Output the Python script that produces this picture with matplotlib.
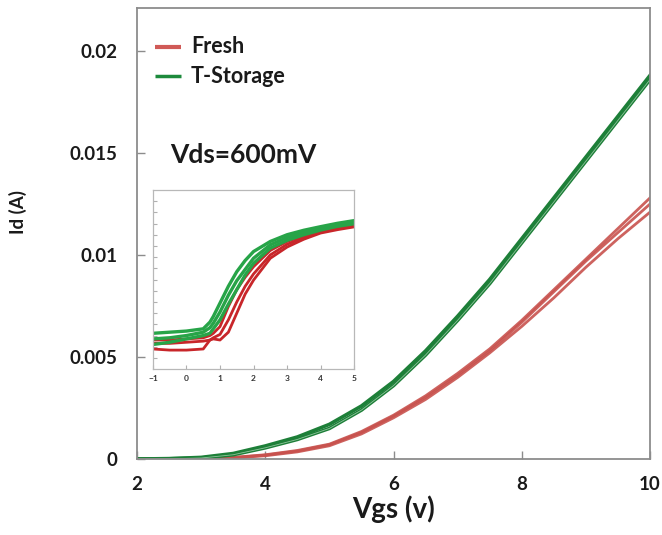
"""Id-Vgs curves of fresh and stored devices, with a log-scale inset."""

import matplotlib
matplotlib.use('Agg')
import matplotlib.pyplot as plt

# Main plot: drain current (A) against gate voltage (V).
vgs = [2, 2.5, 3, 3.5, 4, 4.5, 5, 5.5, 6, 6.5, 7, 7.5, 8, 8.5, 9, 9.5, 10]

green_main = [
    [0, 0.00001, 0.00005, 0.00021, 0.00055, 0.00096, 0.0015, 0.0024, 0.0036,
     0.0051, 0.0068, 0.0086, 0.0106, 0.0126, 0.0146, 0.0166, 0.0186],
    [0, 0.00002, 0.00008, 0.00027, 0.00064, 0.00108, 0.0017, 0.0026, 0.0038,
     0.0053, 0.0070, 0.0088, 0.0108, 0.0128, 0.0148, 0.0168, 0.0188],
]
red_main = [
    [0, 0, 0.00002, 0.00008, 0.00021, 0.00042, 0.00073, 0.00135, 0.00215,
     0.0031, 0.0042, 0.0054, 0.0068, 0.0083, 0.0098, 0.0113, 0.0128],
    [0, 0, 0.00002, 0.00007, 0.00019, 0.00039, 0.0007, 0.0013, 0.0021,
     0.00302, 0.0041, 0.0053, 0.0067, 0.0082, 0.0097, 0.0111, 0.0125],
    [0, 0, 0.00001, 0.00005, 0.00016, 0.00035, 0.00065, 0.00123, 0.00202,
     0.00292, 0.0040, 0.0052, 0.0065, 0.0079, 0.0094, 0.0108, 0.0121],
]

# Inset: log10 of the drain current against gate voltage (V).
vgs_in = [-1, -0.5, 0, 0.5, 0.7, 0.8, 1, 1.25, 1.5, 1.75, 2, 2.5, 3, 3.5,
          4, 4.5, 5]

green_in = [
    [-10.8, -10.7, -10.6, -10.4, -9.8, -9.3, -8.1, -6.6, -5.3, -4.3, -3.5,
     -2.6, -2.0, -1.6, -1.28, -0.98, -0.74],
    [-11.3, -11.2, -11.0, -10.7, -10.3, -9.9, -8.9, -7.4, -6.1, -5.1, -4.1,
     -2.9, -2.25, -1.8, -1.45, -1.12, -0.88],
    [-11.8, -11.6, -11.3, -11.0, -10.8, -10.4, -9.6, -8.2, -6.9, -5.6, -4.55,
     -3.2, -2.5, -2.0, -1.58, -1.25, -1.02],
]
red_in = [
    [-11.4, -11.4, -11.3, -11.2, -11.0, -10.8, -10.2, -8.4, -6.9, -5.8,
     -4.85, -3.4, -2.6, -2.1, -1.6, -1.35, -1.13],
    [-11.7, -11.7, -11.6, -11.5, -11.4, -11.2, -10.9, -9.6, -8.0, -6.6,
     -5.5, -3.8, -2.85, -2.25, -1.75, -1.45, -1.22],
    [-12.2, -12.3, -12.3, -12.2, -11.4, -11.3, -11.4, -10.7, -9.0, -7.3,
     -6.05, -4.1, -3.1, -2.4, -1.85, -1.55, -1.3],
]

y_ticks = [0, 0.005, 0.01, 0.015, 0.02]
y_tick_labels = ['0', '0.005', '0.01', '0.015', '0.02']
x_ticks = [2, 4, 6, 8, 10]
inset_x_ticks = [-1, 0, 1, 2, 3, 4, 5]

FONT = ['Lato', 'DejaVu Sans']
SPINE = '#8c8c8c'
TEXT = '#1a1a1a'


def main():
    """Draw the figure."""
    plt.rcParams['font.family'] = FONT
    plt.rcParams['font.weight'] = 'bold'

    fig = plt.figure(figsize=(6.62, 5.35), dpi=100)
    ax = fig.add_axes([0.207, 0.142, 0.775, 0.843])

    for ys in red_main:
        ax.plot(vgs, ys, color='#c8524e', lw=2.0, alpha=0.9)
    for ys in green_main:
        ax.plot(vgs, ys, color='#1d7f38', lw=2.6)
    # light seam inside the green band
    ax.plot(vgs, green_main[0], color='#8fc49c', lw=0.6)

    ax.set_xlim(2, 10)
    ax.set_ylim(0, 0.0221)
    ax.set_xticks(x_ticks)
    ax.set_xticklabels([str(x) for x in x_ticks])
    ax.set_yticks(y_ticks)
    ax.set_yticklabels(y_tick_labels)
    ax.tick_params(direction='in', length=6, color=SPINE, width=1,
                   labelsize=13.5, labelcolor=TEXT)
    ax.tick_params(axis='x', pad=12)
    ax.tick_params(axis='y', pad=14)
    for spine in ax.spines.values():
        spine.set_color(SPINE)
        spine.set_linewidth(1.3)

    ax.set_xlabel('Vgs (v)', fontsize=20, fontweight='bold',
                  color=TEXT, labelpad=2)
    ax.set_ylabel('Id (A)', fontsize=13.5, fontweight='bold', color=TEXT)
    ax.yaxis.set_label_coords(-0.215, 0.547)

    # Legend drawn by hand to follow the original placement.
    ax.plot([2.28, 2.69], [0.0202, 0.0202], color='#d05a57', lw=3,
            solid_capstyle='butt')
    ax.plot([2.28, 2.69], [0.01875, 0.01875], color='#1d8a3c', lw=2.5,
            solid_capstyle='butt')
    ax.text(2.84, 0.0202, 'Fresh', fontsize=15.5, fontweight='bold',
            va='center', color=TEXT)
    ax.text(2.84, 0.01875, 'T-Storage', fontsize=15.5, fontweight='bold',
            va='center', color=TEXT)
    ax.text(2.51, 0.0149, 'Vds=600mV', fontsize=19, fontweight='bold',
            va='center', color=TEXT)

    # Inset.
    ins = fig.add_axes([0.231, 0.310, 0.304, 0.335])
    for ys in red_in:
        ins.plot(vgs_in, ys, color='#c8262a', lw=2)
    for ys in green_in:
        ins.plot(vgs_in, ys, color='#27a448', lw=2.4)
    ins.set_xlim(-1, 5)
    ins.set_ylim(-14, 2)
    ins.set_xticks(inset_x_ticks)
    ins.set_yticks(list(range(-13, 2)))
    ins.set_yticklabels([])
    ins.tick_params(direction='in', length=3, color='#b0b0b0', width=0.8,
                    labelsize=6, labelcolor='#333333', pad=4)
    for spine in ins.spines.values():
        spine.set_color('#b8b8b8')
        spine.set_linewidth(0.9)

    fig.savefig('out.png', dpi=100)


if __name__ == '__main__':
    main()
